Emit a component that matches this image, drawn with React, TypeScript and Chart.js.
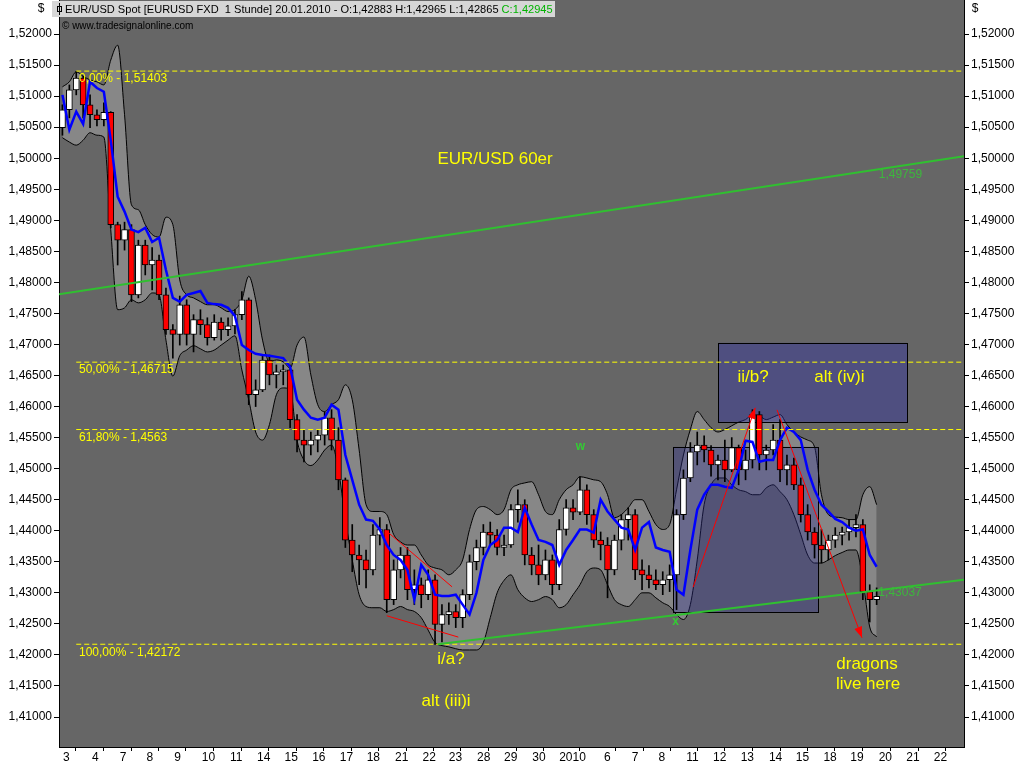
import React, { useEffect, useRef } from 'react';
import { Chart, registerables } from 'chart.js';

Chart.register(...registerables);

// ---- candle data (4 slots per trading day) ----
const openP = [
  1.5049,1.5078,1.5110,1.5129,1.5086,1.5070,1.5062,1.5074,1.4893,1.4868,
  1.4885,1.4780,1.4860,1.4828,1.4836,1.4780,1.4724,1.4716,1.4764,1.4716,
  1.4740,1.4732,1.4711,1.4736,1.4724,1.4730,1.4748,1.4772,1.4619,1.4627,
  1.4675,1.4651,1.4656,1.4659,1.4579,1.4546,1.4538,1.4546,1.4554,1.4582,
  1.4546,1.4482,1.4385,1.4361,1.4353,1.4337,1.4393,1.4402,1.4289,1.4337,
  1.4361,1.4305,1.4313,1.4297,1.4321,1.4249,1.4265,1.4270,1.4260,1.4297,
  1.4350,1.4373,1.4398,1.4393,1.4373,1.4377,1.4434,1.4442,1.4361,1.4345,
  1.4329,1.4353,1.4313,1.4402,1.4437,1.4430,1.4466,1.4426,1.4385,1.4377,
  1.4337,1.4385,1.4418,1.4426,1.4337,1.4329,1.4321,1.4313,1.4321,1.4329,
  1.4426,1.4485,1.4527,1.4538,1.4530,1.4506,1.4514,1.4498,1.4534,1.4498,
  1.4514,1.4587,1.4522,1.4530,1.4546,1.4498,1.4506,1.4474,1.4426,1.4398,
  1.4377,1.4369,1.4385,1.4393,1.4398,1.4405,1.4410,1.4302,1.4289
];
const highP = [
  1.5086,1.5118,1.5140,1.5132,1.5102,1.5078,1.5089,1.5075,1.4897,1.4897,
  1.4893,1.4868,1.4868,1.4856,1.4844,1.4791,1.4732,1.4778,1.4772,1.4748,
  1.4756,1.4743,1.4748,1.4743,1.4743,1.4756,1.4785,1.4775,1.4643,1.4683,
  1.4683,1.4667,1.4667,1.4667,1.4587,1.4562,1.4559,1.4562,1.4591,1.4595,
  1.4566,1.4485,1.4410,1.4377,1.4369,1.4410,1.4421,1.4410,1.4353,1.4373,
  1.4373,1.4337,1.4324,1.4337,1.4329,1.4281,1.4284,1.4281,1.4305,1.4361,
  1.4385,1.4410,1.4414,1.4402,1.4393,1.4442,1.4466,1.4450,1.4373,1.4377,
  1.4369,1.4361,1.4418,1.4450,1.4450,1.4487,1.4474,1.4434,1.4398,1.4389,
  1.4393,1.4426,1.4437,1.4434,1.4353,1.4344,1.4337,1.4334,1.4345,1.4434,
  1.4498,1.4542,1.4559,1.4553,1.4537,1.4522,1.4546,1.4550,1.4538,1.4530,
  1.4595,1.4592,1.4538,1.4571,1.4579,1.4522,1.4517,1.4485,1.4442,1.4405,
  1.4402,1.4393,1.4405,1.4406,1.4418,1.4426,1.4418,1.4313,1.4308
];
const lowP = [
  1.5037,1.5065,1.5102,1.5065,1.5049,1.5052,1.5052,1.4888,1.4828,1.4852,
  1.4769,1.4775,1.4812,1.4788,1.4772,1.4716,1.4678,1.4699,1.4699,1.4688,
  1.4716,1.4699,1.4707,1.4707,1.4714,1.4717,1.4740,1.4603,1.4600,1.4624,
  1.4635,1.4630,1.4635,1.4566,1.4527,1.4511,1.4522,1.4527,1.4538,1.4530,
  1.4466,1.4373,1.4334,1.4313,1.4308,1.4329,1.4377,1.4268,1.4281,1.4324,
  1.4289,1.4281,1.4276,1.4289,1.4217,1.4221,1.4249,1.4244,1.4244,1.4289,
  1.4337,1.4361,1.4377,1.4361,1.4360,1.4373,1.4414,1.4345,1.4329,1.4313,
  1.4321,1.4297,1.4305,1.4393,1.4418,1.4426,1.4410,1.4373,1.4353,1.4292,
  1.4329,1.4369,1.4385,1.4321,1.4305,1.4308,1.4305,1.4297,1.4302,1.4273,
  1.4418,1.4479,1.4506,1.4511,1.4488,1.4482,1.4479,1.4495,1.4474,1.4482,
  1.4501,1.4498,1.4498,1.4522,1.4479,1.4474,1.4466,1.4414,1.4385,1.4356,
  1.4348,1.4353,1.4373,1.4377,1.4385,1.4390,1.4289,1.4253,1.4281
];
const closeP = [
  1.5078,1.5110,1.5129,1.5086,1.5070,1.5062,1.5074,1.4893,1.4868,1.4885,
  1.4780,1.4860,1.4828,1.4836,1.4780,1.4724,1.4716,1.4764,1.4716,1.4740,
  1.4732,1.4711,1.4736,1.4724,1.4730,1.4748,1.4772,1.4619,1.4627,1.4675,
  1.4651,1.4656,1.4659,1.4579,1.4546,1.4538,1.4546,1.4554,1.4582,1.4546,
  1.4482,1.4385,1.4361,1.4353,1.4337,1.4393,1.4402,1.4289,1.4337,1.4361,
  1.4305,1.4313,1.4297,1.4321,1.4249,1.4265,1.4270,1.4260,1.4297,1.4350,
  1.4373,1.4398,1.4393,1.4373,1.4377,1.4434,1.4442,1.4361,1.4345,1.4329,
  1.4353,1.4313,1.4402,1.4437,1.4430,1.4466,1.4426,1.4385,1.4377,1.4337,
  1.4385,1.4418,1.4426,1.4337,1.4329,1.4321,1.4313,1.4321,1.4329,1.4426,
  1.4485,1.4527,1.4538,1.4530,1.4506,1.4514,1.4498,1.4534,1.4498,1.4514,
  1.4587,1.4522,1.4530,1.4546,1.4498,1.4506,1.4474,1.4426,1.4398,1.4377,
  1.4369,1.4385,1.4393,1.4398,1.4405,1.4410,1.4302,1.4289,1.42945
];
const maLine = [
  1.5102,1.5046,1.5075,1.5055,1.5123,1.5113,1.5107,1.5029,1.4938,1.4914,
  1.4885,1.4881,1.4888,1.4865,1.4872,1.4820,1.4775,1.4769,1.4780,1.4783,
  1.4786,1.4767,1.4765,1.4764,1.4759,1.4746,1.4699,1.4691,1.4685,1.4683,
  1.4682,1.4680,1.4678,1.4664,1.4611,1.4595,1.4582,1.4579,1.4582,1.4603,
  1.4595,1.4522,1.4482,1.4442,1.4418,1.4416,1.4402,1.4377,1.4361,1.4353,
  1.4337,1.4289,1.4345,1.4329,1.4297,1.4295,1.4295,1.4297,1.4281,1.4265,
  1.4300,1.4353,1.4377,1.4385,1.4405,1.4405,1.4398,1.4437,1.4410,1.4385,
  1.4382,1.4377,1.4345,1.4369,1.4385,1.4402,1.4402,1.4397,1.4450,1.4431,
  1.4418,1.4405,1.4402,1.4369,1.4405,1.4414,1.4373,1.4369,1.4366,1.4305,
  1.4297,1.4369,1.4434,1.4458,1.4474,1.4474,1.4471,1.4469,1.4498,1.4545,
  1.4543,1.4511,1.4514,1.4514,1.4546,1.4566,1.4559,1.4546,1.4498,1.4466,
  1.4442,1.4431,1.4419,1.4414,1.4405,1.4400,1.4402,1.4361,1.4342
];
const bandUpper = [
  1.5115,1.5123,1.5139,1.5132,1.5126,1.5123,1.5118,1.5158,1.5182,1.5070,
  1.4925,1.4917,1.4893,1.4877,1.4873,1.4905,1.4893,1.4804,1.4780,1.4775,
  1.4769,1.4764,1.4764,1.4759,1.4753,1.4756,1.4772,1.4810,1.4772,1.4707,
  1.4672,1.4675,1.4672,1.4662,1.4699,1.4712,1.4651,1.4603,1.4592,1.4603,
  1.4611,1.4635,1.4611,1.4530,1.4442,1.4431,1.4431,1.4426,1.4394,1.4382,
  1.4377,1.4377,1.4361,1.4345,1.4340,1.4337,1.4329,1.4337,1.4353,1.4402,
  1.4434,1.4439,1.4434,1.4426,1.4434,1.4466,1.4474,1.4477,1.4479,1.4458,
  1.4431,1.4426,1.4450,1.4466,1.4474,1.4487,1.4485,1.4482,1.4479,1.4458,
  1.4421,1.4426,1.4437,1.4450,1.4450,1.4431,1.4410,1.4402,1.4410,1.4466,
  1.4522,1.4563,1.4592,1.4579,1.4566,1.4559,1.4563,1.4569,1.4575,1.4579,
  1.4587,1.4585,1.4579,1.4583,1.4587,1.4571,1.4559,1.4551,1.4546,1.4535,
  1.4458,1.4426,1.4422,1.4421,1.4418,1.4418,1.4458,1.4471,1.4442
];
const bandLower = [
  1.5033,1.5026,1.5021,1.5029,1.5041,1.5037,1.5034,1.4885,1.4756,1.4759,
  1.4772,1.4767,1.4772,1.4783,1.4780,1.4707,1.4649,1.4682,1.4691,1.4698,
  1.4693,1.4688,1.4691,1.4699,1.4707,1.4714,1.4659,1.4611,1.4559,1.4546,
  1.4571,1.4619,1.4630,1.4627,1.4546,1.4514,1.4505,1.4514,1.4530,1.4538,
  1.4498,1.4418,1.4353,1.4297,1.4278,1.4276,1.4276,1.4270,1.4273,1.4278,
  1.4273,1.4270,1.4260,1.4240,1.4220,1.4215,1.4213,1.4210,1.4208,1.4208,
  1.4208,1.4220,1.4260,1.4300,1.4320,1.4329,1.4305,1.4292,1.4286,1.4289,
  1.4294,1.4289,1.4276,1.4281,1.4297,1.4313,1.4334,1.4340,1.4337,1.4313,
  1.4289,1.4281,1.4278,1.4289,1.4300,1.4300,1.4292,1.4284,1.4278,1.4265,
  1.4257,1.4281,1.4353,1.4442,1.4474,1.4485,1.4485,1.4474,1.4466,1.4463,
  1.4458,1.4458,1.4469,1.4474,1.4463,1.4450,1.4426,1.4394,1.4361,1.4348,
  1.4348,1.4353,1.4360,1.4365,1.4369,1.4369,1.4321,1.4245,1.4229
];

// ---- axes ----
const dayTickSlots = [-0.2,4.0,8.0,11.9,15.9,19.9,24.0,27.9,31.9,35.9,39.9,43.8,47.9,51.9,55.7,59.8,63.7,67.8,71.7,78.2,82.2,86.1,90.1,94.0,98.0,102.1,106.0,110.0,113.9,118.0,122.0,126.0];
const dayTickLabels = ['3','4','7','8','9','10','11','14','15','16','17','18','21','22','23','28','29','30','2010','6','7','8','11','12','13','14','15','18','19','20','21','22'];
const priceTicks = [1.41,1.415,1.42,1.425,1.43,1.435,1.44,1.445,1.45,1.455,1.46,1.465,1.47,1.475,1.48,1.485,1.49,1.495,1.5,1.505,1.51,1.515,1.52];
const Y_MIN = 1.40517;
const Y_MAX = 1.52548;
const X_MIN = -0.5;
const X_MAX = 130.66;

// ---- drawing annotations (data space) ----
const fibLevels = [1.51403, 1.46715, 1.4563, 1.42172];
const fibLabels = ['0,00% - 1,51403', '50,00% - 1,46715', '61,80% - 1,4563', '100,00% - 1,42172'];
const fibStartSlot = 2.0;
const fibLabelSlot = 2.4;
const upperTrend = [{ x: -0.5, y: 1.4781 }, { x: 130.66, y: 1.5003 }];
const lowerTrend = [{ x: 54.4, y: 1.42172 }, { x: 130.66, y: 1.4321 }];
const wedgeUpper = [{ x: 46.75, y: 1.44015 }, { x: 56.46, y: 1.43097 }];
const wedgeLower = [{ x: 47.0, y: 1.42631 }, { x: 57.37, y: 1.42287 }];
const arrowUp = [{ x: 91.4, y: 1.4309 }, { x: 100.4, y: 1.4598 }];
const arrowDown = [{ x: 103.56, y: 1.45947 }, { x: 115.88, y: 1.42276 }];
const boxLowerZone = { x0: 88.49, x1: 109.5, y0: 1.42692, y1: 1.45351 };
const boxUpperZone = { x0: 95.01, x1: 122.4, y0: 1.45754, y1: 1.47026 };
const noteTexts = ['EUR/USD 60er', 'ii/b?', 'alt (iv)i', 'i/a?', 'alt (iii)i', 'dragons', 'live here'];
const noteSlots = [62.7, 100.1, 112.6, 56.3, 55.6, 116.6, 116.75];
const notePrices = [1.49988, 1.46478, 1.46478, 1.41922, 1.41254, 1.41842, 1.4152];
const waveTexts = ['w', 'x'];
const waveSlots = [75.08, 88.85];
const wavePrices = [1.45359, 1.42542];
const trendValueTexts = ['1,49759', '1,43037'];
const trendValueSlots = [118.3, 118.25];
const trendValuePrices = [1.49731, 1.43001];

const FONT = "'Liberation Sans', Arial, sans-serif";
const WICK_INDEX = 2;

const slots = openP.map((_, i) => i);

function arrowHead(ctx: CanvasRenderingContext2D, x0: number, y0: number, x1: number, y1: number) {
  const ang = Math.atan2(y1 - y0, x1 - x0);
  const len = 11;
  const w = 4;
  const bx = x1 - len * Math.cos(ang);
  const by = y1 - len * Math.sin(ang);
  ctx.beginPath();
  ctx.moveTo(x1, y1);
  ctx.lineTo(bx + w * Math.sin(ang), by - w * Math.cos(ang));
  ctx.lineTo(bx - w * Math.sin(ang), by + w * Math.cos(ang));
  ctx.closePath();
  ctx.fill();
}

const decorPlugin = {
  id: 'decor',
  beforeDraw(chart: any) {
    const { ctx, chartArea: a } = chart;
    ctx.save();
    ctx.fillStyle = '#ffffff';
    ctx.fillRect(0, 0, chart.width, chart.height);
    ctx.fillStyle = '#666666';
    ctx.fillRect(a.left, a.top, a.right - a.left, a.bottom - a.top);
    ctx.restore();
  },
  beforeDatasetDraw(chart: any, args: any) {
    if (args.index !== WICK_INDEX) return;
    const { ctx } = chart;
    const xs = chart.scales.x;
    const ys = chart.scales.y;
    const drawBox = (b: any, fill: string) => {
      const l = xs.getPixelForValue(b.x0);
      const r = xs.getPixelForValue(b.x1);
      const t = ys.getPixelForValue(b.y1);
      const btm = ys.getPixelForValue(b.y0);
      ctx.fillStyle = fill;
      ctx.fillRect(l, t, r - l, btm - t);
      ctx.strokeStyle = '#000000';
      ctx.lineWidth = 1;
      ctx.strokeRect(Math.round(l) + 0.5, Math.round(t) + 0.5, Math.round(r - l), Math.round(btm - t));
    };
    ctx.save();
    drawBox(boxLowerZone, 'rgba(50,50,150,0.35)');
    drawBox(boxUpperZone, 'rgba(50,50,160,0.45)');
    ctx.restore();
  },
  afterDatasetsDraw(chart: any) {
    const { ctx } = chart;
    const xs = chart.scales.x;
    const ys = chart.scales.y;
    const px = (v: number) => xs.getPixelForValue(v);
    const py = (v: number) => ys.getPixelForValue(v);
    ctx.save();
    ctx.fillStyle = '#ff0000';
    [arrowUp, arrowDown].forEach((seg) => {
      arrowHead(ctx, px(seg[0].x), py(seg[0].y), px(seg[1].x), py(seg[1].y));
    });
    ctx.fillStyle = '#ffff00';
    ctx.font = `12px ${FONT}`;
    ctx.textAlign = 'left';
    ctx.textBaseline = 'top';
    fibLevels.forEach((lv, i) => {
      ctx.fillText(fibLabels[i], px(fibLabelSlot), py(lv) + 2);
    });
    ctx.font = `17px ${FONT}`;
    ctx.textAlign = 'center';
    ctx.textBaseline = 'middle';
    noteTexts.forEach((t, i) => {
      ctx.fillText(t, px(noteSlots[i]), py(notePrices[i]));
    });
    ctx.fillStyle = '#33cc33';
    ctx.font = `bold 12px ${FONT}`;
    waveTexts.forEach((t, i) => {
      ctx.fillText(t, px(waveSlots[i]), py(wavePrices[i]));
    });
    ctx.font = `12px ${FONT}`;
    ctx.textAlign = 'left';
    ctx.fillStyle = '#3cb83c';
    trendValueTexts.forEach((t, i) => {
      ctx.fillText(t, px(trendValueSlots[i]), py(trendValuePrices[i]));
    });
    ctx.restore();
  },
  afterDraw(chart: any) {
    const { ctx } = chart;
    ctx.save();
    ctx.fillStyle = '#d6d6d6';
    ctx.fillRect(52, 1, 503, 16);
    ctx.strokeStyle = '#000';
    ctx.lineWidth = 1;
    ctx.beginPath();
    ctx.moveTo(59.5, 3);
    ctx.lineTo(59.5, 15);
    ctx.stroke();
    ctx.strokeRect(57.5, 6.5, 4, 5);
    const part1 = 'EUR/USD Spot [EURUSD FXD  1 Stunde] 20.01.2010 - O:1,42883 H:1,42965 L:1,42865 ';
    const part2 = 'C:1,42945';
    let fs = 12;
    ctx.font = `${fs}px ${FONT}`;
    const total = ctx.measureText(part1 + part2).width;
    if (total > 488) {
      fs = fs * 488 / total;
      ctx.font = `${fs}px ${FONT}`;
    }
    ctx.textBaseline = 'middle';
    ctx.textAlign = 'left';
    ctx.fillStyle = '#000';
    ctx.fillText(part1, 65, 9.5);
    const w1 = ctx.measureText(part1).width;
    ctx.fillStyle = '#00b400';
    ctx.fillText(part2, 65 + w1, 9.5);
    ctx.fillStyle = '#000';
    ctx.font = `10px ${FONT}`;
    ctx.fillText('\u00a9 www.tradesignalonline.com', 62, 26);
    ctx.font = `12px ${FONT}`;
    ctx.textAlign = 'center';
    ctx.fillText('$', 41, 9);
    ctx.fillText('$', 975, 9);
    ctx.restore();
  },
};

function lineDs(data: any[], color: string, width: number, order: number, dash: number[] = []) {
  return {
    type: 'line',
    data,
    borderColor: color,
    borderWidth: width,
    borderDash: dash,
    pointRadius: 0,
    fill: false,
    tension: 0,
    order,
  };
}

export default function App() {
  const ref = useRef<HTMLCanvasElement | null>(null);
  useEffect(() => {
    if (!ref.current) return;
    const fibSets = fibLevels.map((lv) =>
      lineDs([{ x: fibStartSlot, y: lv }, { x: X_MAX, y: lv }], '#ffff00', 1, 6, [5, 3])
    );
    const yScaleBase = (pos: string, width: number) => ({
      type: 'linear',
      position: pos,
      min: Y_MIN,
      max: Y_MAX,
      afterBuildTicks: (s: any) => {
        s.ticks = priceTicks.map((v) => ({ value: v }));
      },
      afterFit: (s: any) => {
        s.width = width;
        s.paddingTop = 0;
        s.paddingBottom = 0;
      },
      ticks: {
        autoSkip: false,
        color: '#000',
        padding: 2,
        font: { family: FONT, size: 12 },
        callback: (v: any) => Number(v).toFixed(5).replace('.', ','),
      },
      grid: { drawOnChartArea: false, drawTicks: true, tickLength: 5, color: '#000' },
      border: { display: true, color: '#000', width: 1 },
    });
    const chart = new Chart(ref.current, {
      type: 'bar',
      data: {
        datasets: [
          {
            type: 'line',
            data: slots.map((i) => ({ x: i, y: bandUpper[i] })),
            borderColor: '#000000',
            borderWidth: 1,
            pointRadius: 0,
            fill: '+1',
            backgroundColor: '#878787',
            cubicInterpolationMode: 'monotone',
            order: 11,
          },
          {
            type: 'line',
            data: slots.map((i) => ({ x: i, y: bandLower[i] })),
            borderColor: '#000000',
            borderWidth: 1,
            pointRadius: 0,
            fill: false,
            cubicInterpolationMode: 'monotone',
            order: 10,
          },
          {
            type: 'bar',
            data: slots.map((i) => ({ x: i, y: [lowP[i], highP[i]] })),
            backgroundColor: '#000000',
            barThickness: 1,
            grouped: false,
            order: 9,
          },
          {
            type: 'bar',
            data: slots.map((i) => ({ x: i, y: [openP[i], closeP[i]] })),
            backgroundColor: slots.map((i) => (closeP[i] >= openP[i] ? '#ffffff' : '#ff0000')),
            borderColor: '#000000',
            borderWidth: 1,
            borderSkipped: false,
            barThickness: 6,
            grouped: false,
            order: 8,
          },
          {
            type: 'line',
            data: slots.map((i) => ({ x: i, y: maLine[i] })),
            borderColor: '#0000ff',
            borderWidth: 2.5,
            pointRadius: 0,
            fill: false,
            tension: 0,
            order: 7,
          },
          ...fibSets,
          lineDs(upperTrend, '#30c030', 2, 5),
          lineDs(lowerTrend, '#30c030', 2, 5),
          lineDs(wedgeUpper, '#ff0000', 1, 4),
          lineDs(wedgeLower, '#ff0000', 1, 4),
          lineDs(arrowUp, '#ff0000', 1, 4),
          lineDs(arrowDown, '#ff0000', 1, 4),
        ] as any,
      },
      options: {
        responsive: false,
        animation: false,
        devicePixelRatio: 1,
        events: [],
        layout: { padding: 0 },
        plugins: { legend: { display: false }, tooltip: { enabled: false }, title: { display: false } },
        scales: {
          x: {
            type: 'linear',
            min: X_MIN,
            max: X_MAX,
            offset: false,
            afterBuildTicks: (s: any) => {
              s.ticks = dayTickSlots.map((v) => ({ value: v }));
            },
            afterFit: (s: any) => {
              s.height = 21;
              s.paddingLeft = 0;
              s.paddingRight = 0;
            },
            ticks: {
              autoSkip: false,
              maxRotation: 0,
              minRotation: 0,
              align: 'start',
              labelOffset: 2,
              padding: -1,
              color: '#000',
              font: { family: FONT, size: 12 },
              callback: (_v: any, idx: number) => dayTickLabels[idx],
            },
            grid: { drawOnChartArea: false, drawTicks: true, tickLength: 4, color: '#000' },
            border: { display: true, color: '#000', width: 1 },
          },
          y: yScaleBase('left', 59),
          y2: yScaleBase('right', 60),
        } as any,
      },
      plugins: [decorPlugin],
    } as any);
    return () => chart.destroy();
  }, []);
  return (
    <div style={{ position: 'fixed', left: 0, top: 0, width: 1024, height: 768, background: '#fff' }}>
      <canvas ref={ref} width={1024} height={768} style={{ display: 'block', width: 1024, height: 768 }} />
    </div>
  );
}
